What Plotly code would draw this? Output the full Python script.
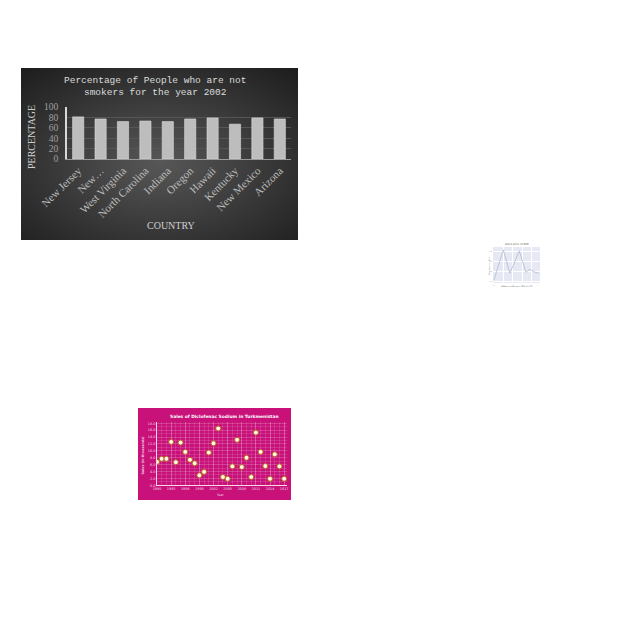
import base64
import plotly.graph_objects as go

W = H = 640

# ---------------- data ----------------
states = ["New Jersey", "New…", "West Virginia", "North Carolina", "Indiana",
          "Oregon", "Hawaii", "Kentucky", "New Mexico", "Arizona"]
nonsmoker_pct = [81, 77, 72, 73, 72, 77, 79, 67, 79, 77]

ibm_days = [0, 10, 17, 27, 34, 38, 44, 48]
ibm_close = [121, 152, 128, 151, 129, 132, 129, 128]

sales_years = list(range(1990, 2018))
sales_values = [6.8, 7.7, 7.7, 12.6, 6.7, 12.4, 9.7, 7.4, 6.4, 2.9,
                3.9, 9.5, 12.2, 16.5, 2.4, 1.9, 5.5, 13.2, 5.3, 8.0,
                2.4, 15.3, 9.7, 5.6, 1.9, 9.0, 5.5, 1.9]


def px(x):
    return x / W


def py(y):
    return 1 - y / H


fig = go.Figure()

# ---------------- panel 1: bar chart ----------------
fig.add_trace(go.Bar(
    x=states, y=nonsmoker_pct, xaxis="x", yaxis="y",
    marker=dict(color="#bdbdbd", line=dict(color="#dcdcdc", width=0.6)),
    width=0.5, showlegend=False,
))

# ---------------- panel 2: line chart ----------------
fig.add_trace(go.Scatter(
    x=ibm_days, y=ibm_close, xaxis="x2", yaxis="y2", mode="lines",
    line=dict(color="#b3bad0", width=0.8), showlegend=False,
))

# ---------------- panel 3: scatter ----------------
fig.add_trace(go.Scatter(
    x=sales_years, y=sales_values, xaxis="x3", yaxis="y3", mode="markers",
    marker=dict(size=5, color="#fff8e6", line=dict(color="#b8601c", width=1)),
    showlegend=False,
))

svg = ("<svg xmlns='http://www.w3.org/2000/svg' width='277' height='172'>"
       "<defs><radialGradient id='g' cx='50%' cy='55%' r='75%'>"
       "<stop offset='0' stop-color='#575757'/>"
       "<stop offset='1' stop-color='#1c1c1c'/></radialGradient></defs>"
       "<rect width='277' height='172' fill='url(#g)'/></svg>")
svg_uri = "data:image/svg+xml;base64," + base64.b64encode(svg.encode()).decode()

serif = "Liberation Serif"
mono = "Liberation Mono"
sans = "DejaVu Sans"


def ann(text, x, y, size, color, family, angle=0):
    return dict(text=text, xref="paper", yref="paper", x=px(x), y=py(y),
                xanchor="center", yanchor="middle", showarrow=False,
                textangle=angle, font=dict(family=family, size=size, color=color))


common = dict(automargin=False, zeroline=False, ticks="")

fig.update_layout(
    template="none",
    width=W, height=H, autosize=False,
    margin=dict(l=0, r=0, t=0, b=0, pad=0),
    paper_bgcolor="white", plot_bgcolor="rgba(0,0,0,0)",
    bargap=0.5, showlegend=False,
    images=[dict(source=svg_uri, xref="paper", yref="paper",
                 x=px(21), y=py(68), sizex=px(298) - px(21), sizey=py(68) - py(240),
                 xanchor="left", yanchor="top", sizing="stretch", layer="below")],
    shapes=[
        dict(type="rect", xref="paper", yref="paper", layer="below",
             x0=px(493), x1=px(540), y0=py(283), y1=py(247),
             fillcolor="#e6e9f3", line=dict(width=0)),
        dict(type="rect", xref="paper", yref="paper", layer="below",
             x0=px(138), x1=px(291), y0=py(500), y1=py(408),
             fillcolor="#c8127a", line=dict(width=0)),
    ],
    xaxis=dict(domain=[px(67), px(291)], anchor="y", tickangle=-45,
               tickfont=dict(family=serif, size=11, color="#bdbdbd"),
               showgrid=False, showline=True, linecolor="#9a9a9a", linewidth=1,
               **common),
    yaxis=dict(domain=[py(159), py(107)], anchor="x", range=[0, 100], dtick=20,
               tickfont=dict(family=serif, size=9.5, color="#a0a0a0"),
               ticklabelstandoff=5,
               showgrid=True, gridcolor="#555555", gridwidth=1,
               showline=True, linecolor="#d8d8d8", linewidth=1.5,
               **common),
    xaxis2=dict(domain=[px(493), px(540)], anchor="y2", range=[-1, 49],
                showgrid=True, gridcolor="white", gridwidth=0.5, showline=False,
                tickfont=dict(family=sans, size=1.5, color="#888"),
                dtick=10, **common),
    yaxis2=dict(domain=[py(283), py(247)], anchor="x2", range=[118, 155],
                showgrid=True, gridcolor="white", gridwidth=0.5, showline=False,
                tickfont=dict(family=sans, size=1.5, color="#888"),
                dtick=10, **common),
    xaxis3=dict(domain=[px(157), px(287)], anchor="y3", range=[1990, 2017.6],
                tickvals=list(range(1990, 2018, 3)),
                tickfont=dict(family=sans, size=3.4, color="#f4d6e6"),
                showgrid=True, gridcolor="rgba(255,255,255,0.18)", gridwidth=0.5,
                minor=dict(dtick=1, showgrid=True, gridcolor="rgba(255,255,255,0.12)", gridwidth=0.5),
                showline=True, linecolor="#f7d8e8", linewidth=1,
                **common),
    yaxis3=dict(domain=[py(485.3), py(421.6)], anchor="x3", range=[0, 18.5],
                dtick=2, tickformat=".1f",
                tickfont=dict(family=sans, size=3.4, color="#f4d6e6"),
                showgrid=True, gridcolor="rgba(255,255,255,0.18)", gridwidth=0.5,
                minor=dict(dtick=1, showgrid=True, gridcolor="rgba(255,255,255,0.12)", gridwidth=0.5),
                showline=True, linecolor="#f7d8e8", linewidth=1,
                **common),
    annotations=[
        ann("Percentage of People who are not<br>smokers for the year 2002",
            155, 86, 9.5, "#dcdcdc", mono),
        ann("PERCENTAGE", 31.5, 137.5, 10, "#d0d0d0", serif, -90),
        ann("COUNTRY", 171, 225, 10, "#d0d0d0", serif),
        ann("Stock price of IBM", 516, 244.5, 2.6, "#555", sans),
        ann("Closing price (USD)", 489, 266, 1.8, "#666", sans, -90),
        ann("Number of days since 2019-01-01", 516, 286.5, 1.8, "#666", sans),
        ann("<b>Sales of Diclofenac Sodium in Turkmenistan</b>", 224.5, 416, 4.4, "white", sans),
        ann("<b>Sales (in thousands)</b>", 142.5, 455, 3.3, "#f4d6e6", sans, -90),
        ann("Year", 221, 495, 3.3, "#f4d6e6", sans),
    ],
)

fig.write_html("out.html")
